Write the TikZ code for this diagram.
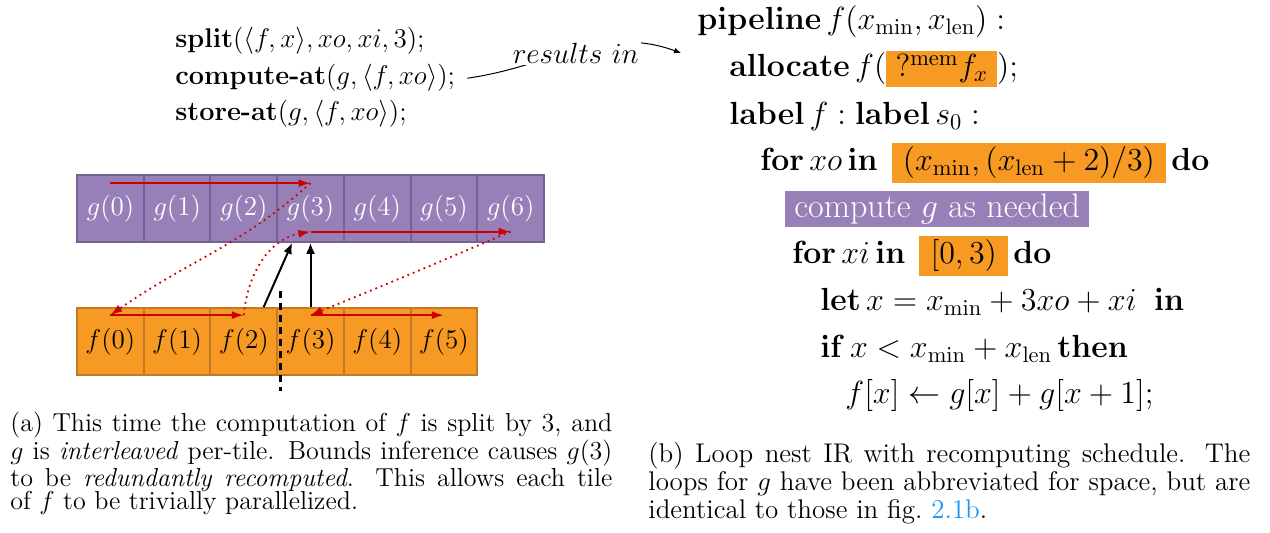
\RequirePackage{fix-cm}
\documentclass[tikz,border=0pt]{standalone}
\usepackage{amsmath}
\usetikzlibrary{arrows.meta}

\definecolor{gfill}{RGB}{151,128,184}
\definecolor{gline}{RGB}{118,97,148}
\definecolor{ffill}{RGB}{247,154,35}
\definecolor{fline}{RGB}{192,122,40}
\definecolor{tracered}{RGB}{204,0,0}
\definecolor{linkblue}{RGB}{25,150,250}

\newcommand\sizeA{\fontsize{13.55}{16}\selectfont}
\newcommand\sizeB{\fontsize{16}{19}\selectfont}
\newcommand\boxo[1]{{\setlength\fboxsep{2pt}\colorbox{ffill}{$#1$}}}

\tikzset{
	gcell/.style={draw=gline, fill=gfill, line width=1pt, minimum size=33.35pt, inner sep=0pt, text=white, font=\sizeA},
	fcell/.style={draw=fline, fill=ffill, line width=1pt, minimum size=33.35pt, inner sep=0pt, font=\sizeA},
	walk/.style={draw=tracered, line width=.9pt, -{Latex[length=6pt,width=4pt]}},
	dep/.style={draw=black, line width=1pt, -{Latex[length=5.5pt,width=4.5pt]}},
	cut/.style={draw=black, line width=1.6pt, dash pattern=on 3.5pt off 2.5pt},
	note/.style={draw=black, line width=.5pt, -{Latex[length=3.5pt,width=2.8pt]}},
	codeA/.style={anchor=base west, inner sep=0pt, font=\sizeA},
	codeB/.style={anchor=base west, inner sep=0pt, font=\sizeB},
	capA/.style={anchor=base west, inner sep=0pt, text width=301pt, align=justify, font=\fontsize{13}{11.9}\selectfont},
	capB/.style={anchor=base west, inner sep=0pt, text width=301pt, align=justify, font=\fontsize{13.5}{14}\selectfont}
}

\begin{document}
\begin{tikzpicture}[x=.5pt, y=.5pt]
	\useasboundingbox (0,0) rectangle (1270,533);

	% schedule
	\node[codeA] (spl) at (175,485) {$\mathbf{split}(\langle f, x\rangle, xo, xi, 3);$};
	\node[codeA] (cmp) at (175,448) {$\textbf{compute-at}(g, \langle f, xo\rangle);$};
	\node[codeA] (sto) at (175,412) {$\textbf{store-at}(g, \langle f, xo\rangle);$};

	% cells
	\foreach \v in {0,...,6}
		\node[gcell] (G\v) at ({110.4 + 66.7*\v}, 324.5) {$g(\v)$};
	\foreach \v in {0,...,5}
		\node[fcell] (F\v) at ({110.4 + 66.7*\v}, 191.5) {$f(\v)$};

	\draw[walk] ([yshift=-4.5pt]G0.north) -- ([yshift=-4.5pt]G3.north);
	\draw[walk] ([yshift=5.6pt]G3.south) -- ([yshift=5.6pt]G6.south);
	\draw[walk] ([yshift=-4pt]F0.north) -- ([yshift=-4pt]F2.north);
	\draw[walk] ([yshift=-4pt]F3.north) -- ([yshift=-4pt]F5.north);
	\draw[walk, dotted] ([yshift=-4.5pt]G3.north) to[out=222, in=35] ([yshift=-4pt]F0.north);
	\draw[walk, dotted] ([yshift=-4pt]F2.north) to[out=85, in=190] ([yshift=5.6pt]G3.south);
	\draw[walk, dotted] ([yshift=5.6pt]G6.south) to[out=203, in=22] ([yshift=-4pt]F3.north);

	\draw[dep] ([xshift=-7.25pt]F2.north east) -- ([xshift=8pt]G3.south west);
	\draw[dep] (F3.north) -- (G3.south);
	\draw[cut] ([xshift=1pt, yshift=8pt]F2.north east) -- ([xshift=1pt, yshift=-7.5pt]F2.south east);

	% loop nest
	\node[codeB] (l1) at (697,503.5) {$\mathbf{pipeline}\, f(x_{\min}, x_{\mathrm{len}}) :$};
	\node[codeB] (l2) at (729,456) {$\mathbf{allocate}\, f(\boxo{\,?^{\mathrm{mem}}f_x\,});$};
	\node[codeB] (l3) at (729,408.5) {$\mathbf{label}\, f : \mathbf{label}\, s_0 :$};
	\node[codeB] (l4) at (760,362) {$\mathbf{for}\, xo\, \mathbf{in}\;\, \boxo{\:(x_{\min}, (x_{\mathrm{len}} + 2)/3)\:}\, \mathbf{do}$};
	\node[codeB] (l5) at (785,315.5) {\fontsize{17}{20}\selectfont\setlength\fboxsep{1.5pt}\colorbox{gfill}{\hspace{3pt}\color{white}compute $g$ as needed\hspace{3pt}}};
	\node[codeB] (l6) at (792,269) {$\mathbf{for}\, xi\, \mathbf{in}\;\, \boxo{\:[0,3)\:}\, \mathbf{do}$};
	\node[codeB] (l7) at (820,222) {$\mathbf{let}\, x = x_{\min} + 3xo + xi\;\;\mathbf{in}$};
	\node[codeB] (l8) at (820,175.5) {$\mathbf{if}\, x < x_{\min} + x_{\mathrm{len}}\, \mathbf{then}$};
	\node[codeB] (l9) at (845,129) {$f[x] \leftarrow g[x] + g[x+1];$};

	\coordinate (tgt) at (681,480);
	\draw[note] ([xshift=6pt]cmp.east) to[out=8, in=160]
		node[fill=white, inner sep=1pt, yshift=-1.3pt, font=\fontsize{14.6}{17}\selectfont] (res) {$results\ in$} (tgt);

	% captions
	\node[capA] (capa) at (10,101.5) {(a) This time the computation of $f$ is split by 3, and\linebreak
		$g$ is \emph{interleaved} per-tile. Bounds inference causes $g(3)$\linebreak
		to be \emph{redundantly recomputed}. This allows each tile\linebreak
		of $f$ to be trivially parallelized.};
	\node[capB] (capb) at (648,70) {(b) Loop nest IR with recomputing schedule. The\linebreak
		loops for $g$ have been abbreviated for space, but are\linebreak
		identical to those in fig.~\textcolor{linkblue}{2.1b}.};
\end{tikzpicture}
\end{document}
